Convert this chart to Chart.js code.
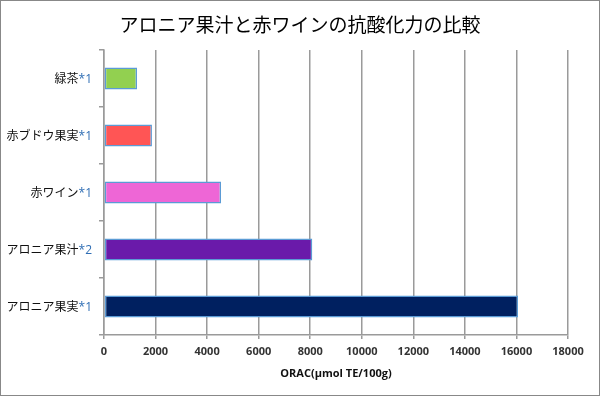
<!DOCTYPE html>
<html>
<head>
<meta charset="utf-8">
<script src="https://cdn.jsdelivr.net/npm/chart.js@4"></script>
<style>
  body { margin: 0; background: #fff; }
  canvas { display: block; }
</style>
</head>
<body>
<canvas id="myChart" width="600" height="396"></canvas>
<script>
var categories = ["緑茶", "赤ブドウ果実", "赤ワイン", "アロニア果汁", "アロニア果実"];
var notes = ["*1", "*1", "*1", "*2", "*1"];
var oracValues = [1280, 1860, 4540, 8080, 16060];
var barColors = ["#92D050", "#FF5555", "#EE66D6", "#6A1AAA", "#002060"];
var chartTitle = "アロニア果汁と赤ワインの抗酸化力の比較";

var gridColor = "#9a9a9a";

// title, frame and two-colour category labels
var labelPlugin = {
  id: "labels",
  beforeDraw: function (chart) {
    var ctx = chart.ctx;
    ctx.save();
    ctx.fillStyle = "#fff";
    ctx.fillRect(0, 0, chart.width, chart.height);
    ctx.restore();
  },
  afterDraw: function (chart) {
    var ctx = chart.ctx;
    var yScale = chart.scales.y;
    ctx.save();
    ctx.textBaseline = "middle";
    ctx.textAlign = "center";
    ctx.fillStyle = "#000";
    ctx.font = "19px 'Noto Sans CJK JP'";
    ctx.fillText(chartTitle, chart.width / 2, 25);

    ctx.textAlign = "right";
    for (var i = 0; i < categories.length; i++) {
      var y = yScale.getPixelForValue(i);
      ctx.font = "12px 'Open Sans'";
      ctx.fillStyle = "#2E6DB4";
      ctx.fillText(notes[i], 92, y + 1);
      var w = ctx.measureText(notes[i]).width;
      ctx.font = "12px 'Noto Sans CJK JP'";
      ctx.fillStyle = "#111";
      ctx.fillText(categories[i], 92 - w, y);
    }
    ctx.strokeStyle = "#888";
    ctx.lineWidth = 1;
    ctx.strokeRect(0.5, 0.5, chart.width - 1, chart.height - 1);
    ctx.restore();
  },
};

new Chart("myChart", {
  type: "bar",
  data: {
    labels: categories.map(function (c, i) { return c + notes[i]; }),
    datasets: [
      {
        data: oracValues,
        backgroundColor: barColors,
        borderColor: "#5B9BD5",
        borderWidth: 1.5,
        borderSkipped: false,
        categoryPercentage: 1,
        barPercentage: 0.386,
      },
    ],
  },
  options: {
    indexAxis: "y",
    responsive: false,
    animation: false,
    layout: {
      padding: { top: 50, right: 32, bottom: 0, left: 0 },
    },
    plugins: {
      legend: { display: false },
      tooltip: { enabled: false },
      title: { display: false },
    },
    scales: {
      x: {
        min: 0,
        max: 18000,
        afterFit: function (s) { s.height = 61; },
        border: { display: true, color: gridColor, width: 1.5 },
        grid: { color: gridColor, lineWidth: 1.5, tickLength: 4 },
        ticks: {
          stepSize: 2000,
          color: "#333",
          padding: 6,
          font: { family: "'Open Sans'", size: 11, weight: "bold" },
          callback: function (v) { return String(v); },
        },
        title: {
          display: true,
          text: "ORAC(μmol TE/100g)",
          color: "#111",
          font: { family: "'Open Sans'", size: 11, weight: "bold" },
          padding: { top: 0, bottom: 16 },
        },
      },
      y: {
        afterFit: function (s) { s.width = 104; },
        border: { display: true, color: gridColor, width: 1.5 },
        grid: {
          offset: true,
          drawOnChartArea: false,
          color: gridColor,
          lineWidth: 1.5,
          tickLength: 5,
        },
        ticks: { display: false },
      },
    },
  },
  plugins: [labelPlugin],
});
</script>
</body>
</html>
